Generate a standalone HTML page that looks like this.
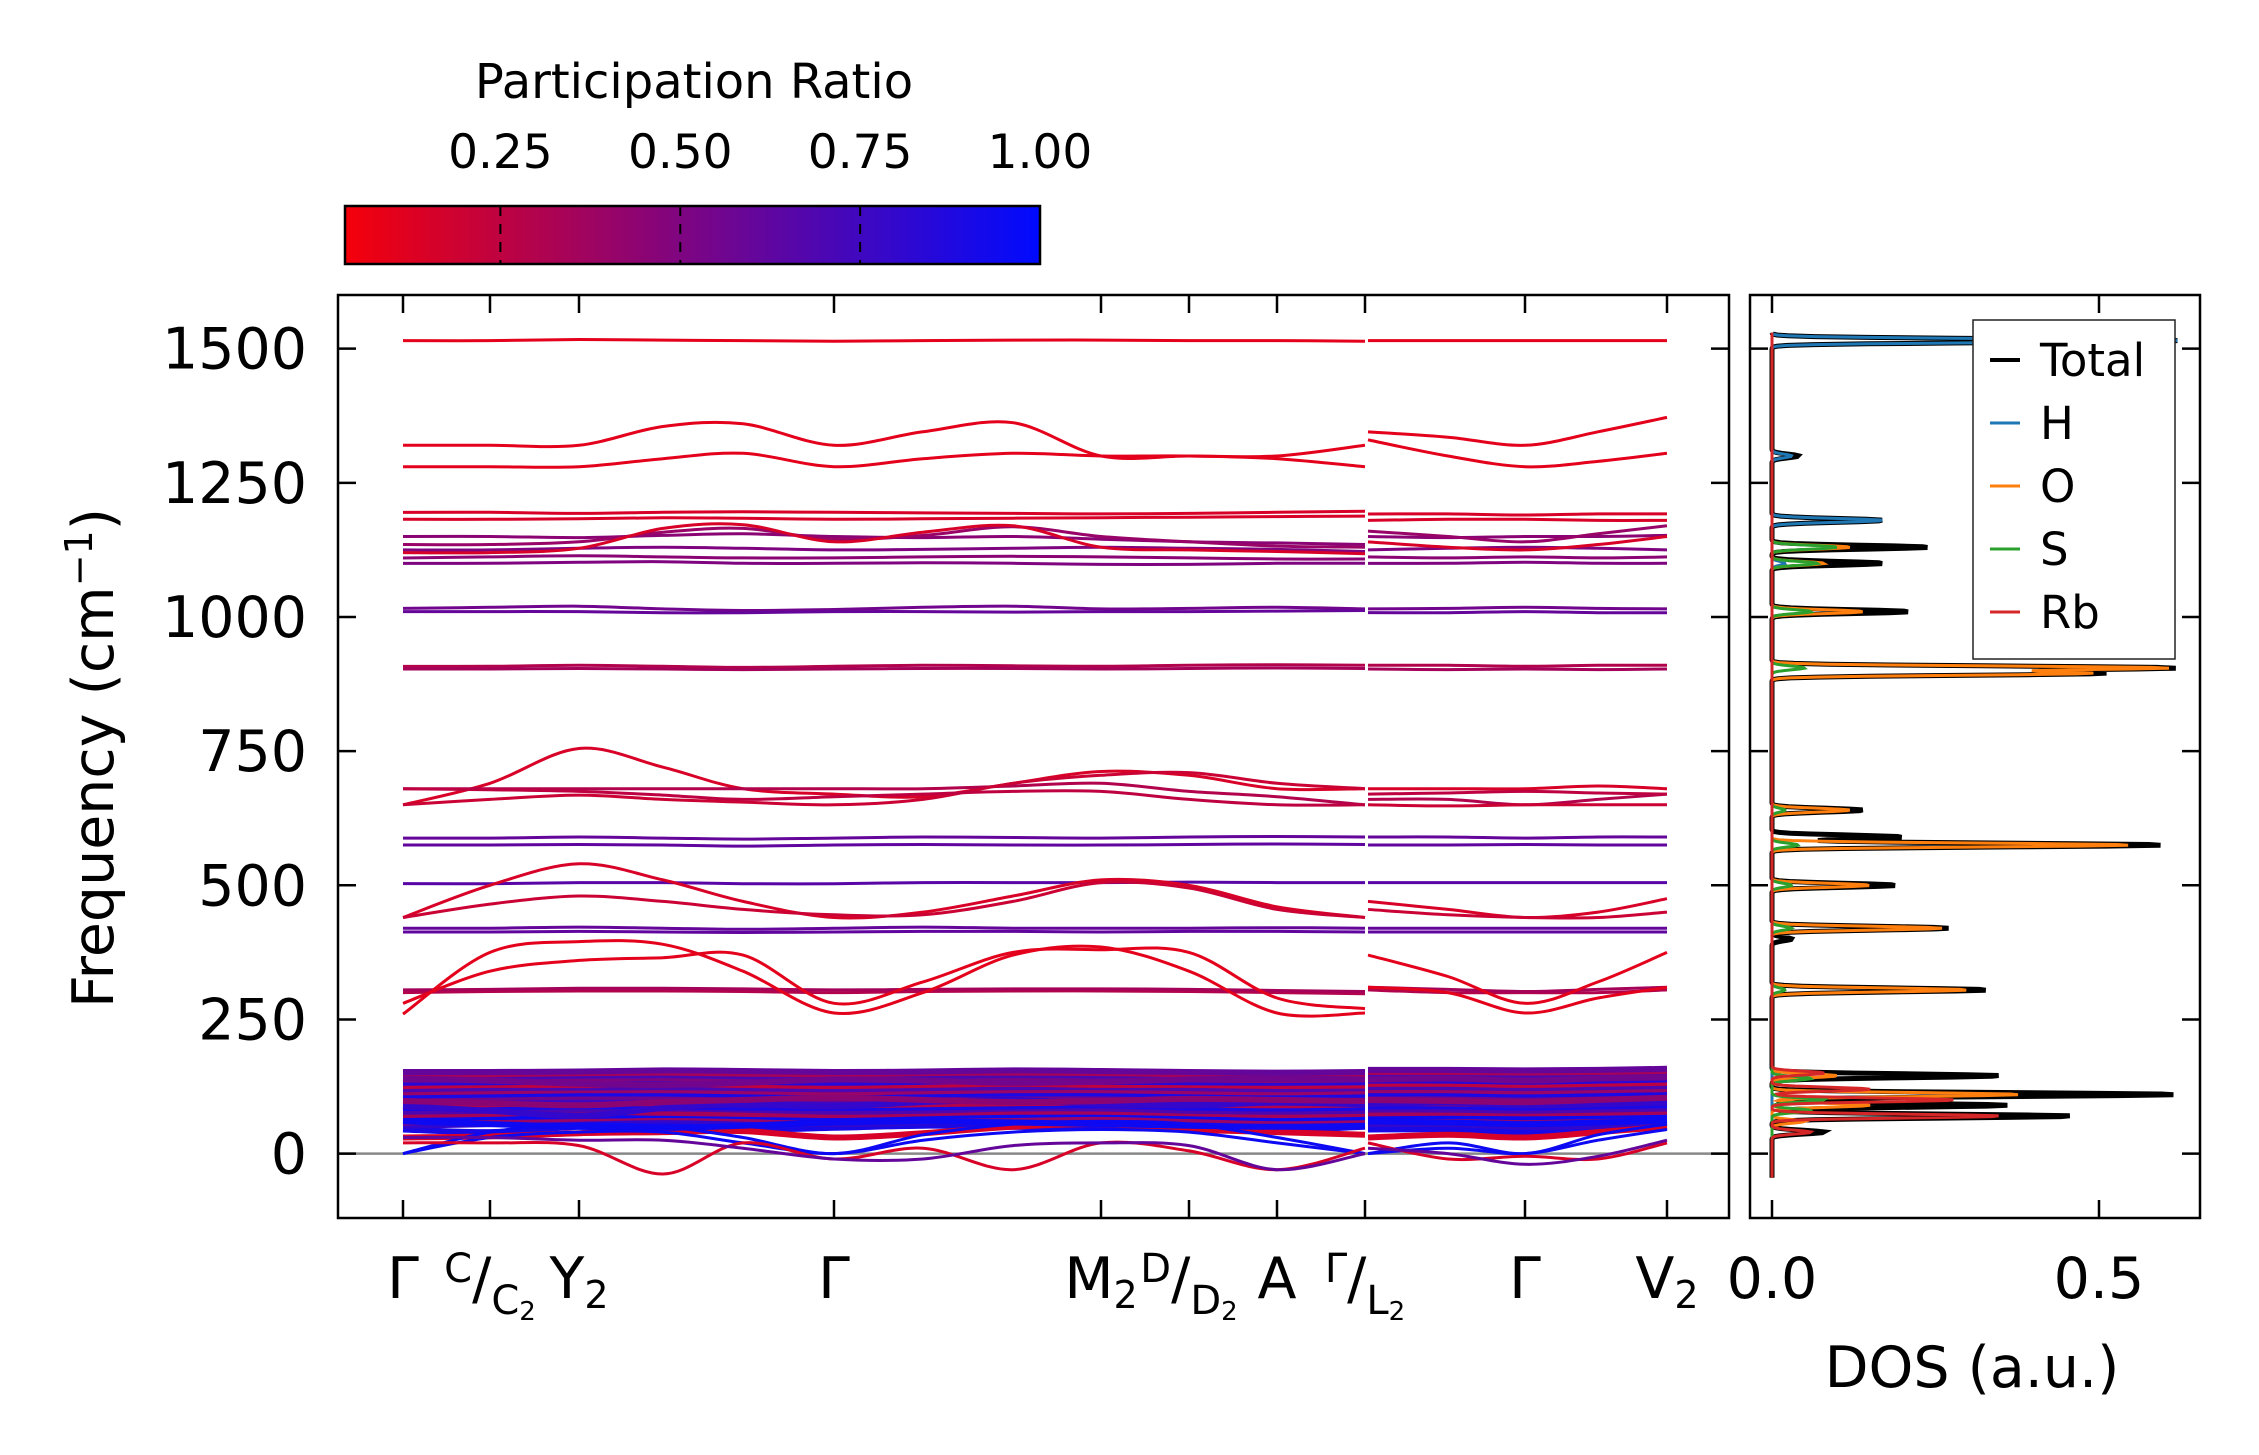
<!DOCTYPE html>
<html><head><meta charset="utf-8"><style>
html,body{margin:0;padding:0;background:#fff;}
svg{display:block;font-family:"DejaVu Sans","Liberation Sans",sans-serif;}
</style></head><body>
<svg id="fig" width="2259" height="1455" viewBox="0 0 2259 1455" xmlns="http://www.w3.org/2000/svg">
<defs>
<linearGradient id="cbgrad" x1="0" x2="1" y1="0" y2="0">
<stop offset="0" stop-color="rgb(245,0,10)"/><stop offset="1" stop-color="rgb(0,10,255)"/>
</linearGradient>
<clipPath id="mainclip"><rect x="338" y="295" width="1391" height="923"/></clipPath>
<clipPath id="dosclip"><rect x="1750" y="295" width="450" height="923"/></clipPath>
</defs>
<g id="colorbar">
<text x="694" y="98" font-size="48" text-anchor="middle">Participation Ratio</text>
<rect x="345" y="206" width="695" height="58" fill="url(#cbgrad)" stroke="#000" stroke-width="2.5"/>
</g>
<g id="main"></g>
<g id="dos"></g>
</svg>
<script>
const NS="http://www.w3.org/2000/svg";
// ---- data ----
const cbTicks=[0.25,0.50,0.75,1.00];
const kTickPos=[0,0.87,1.76,4.31,6.98,7.86,8.74,9.62,11.22,12.64];
const kTickLabels=["Γ","C/C2","Y2","Γ","M2","D/D2","A","Γ/L2","Γ","V2"];
const yTicks=[0,250,500,750,1000,1250,1500];
const kSeg1=[0,0.87,1.76,2.6,3.4,4.31,5.2,6.1,6.98,7.86,8.74,9.62];
const kSeg2=[9.62,10.45,11.22,11.95,12.64];
// each band: participation ratio, values on kSeg1, values on kSeg2
const bandPR=[0.1,0.1,0.1,0.15,0.15,0.45,0.4,0.5,0.45,0.5,0.15,0.55,0.6,0.3,0.35,0.15,0.3,0.2,0.25,0.6,0.62,0.65,0.15,0.2,0.6,0.62,0.3,0.35,0.1,0.1,0.95,0.95,0.15,0.6];
const bandSeg1=[
[1515,1515,1517,1516,1515,1514,1515,1516,1516,1515,1515,1514],
[1320,1320,1320,1355,1360,1320,1345,1362,1300,1300,1300,1320],
[1280,1280,1280,1295,1305,1280,1295,1305,1300,1300,1295,1280],
[1195,1195,1193,1195,1196,1195,1194,1193,1192,1193,1195,1197],
[1182,1182,1183,1185,1184,1182,1183,1184,1185,1186,1187,1188],
[1150,1150,1148,1152,1155,1150,1148,1150,1145,1140,1138,1135],
[1135,1135,1140,1158,1165,1145,1152,1168,1150,1140,1132,1130],
[1125,1125,1128,1130,1128,1125,1126,1128,1130,1128,1126,1122],
[1110,1112,1114,1112,1110,1110,1112,1113,1112,1110,1108,1108],
[1100,1100,1102,1103,1100,1100,1101,1100,1098,1098,1100,1100],
[1120,1120,1128,1165,1172,1140,1158,1170,1130,1125,1122,1118],
[1016,1018,1020,1015,1012,1014,1018,1020,1015,1016,1018,1015],
[1010,1010,1010,1008,1008,1010,1010,1009,1010,1010,1011,1012],
[908,908,910,908,906,908,910,909,908,910,911,910],
[903,903,904,903,902,903,904,904,903,904,905,904],
[650,690,755,720,680,670,665,690,712,705,680,680],
[680,680,680,680,680,680,680,685,690,675,665,650],
[650,660,668,660,655,650,660,690,705,710,690,680],
[680,678,675,668,660,665,670,675,675,660,650,650],
[588,588,590,588,586,588,590,589,588,590,591,590],
[575,575,576,575,573,575,576,575,575,576,577,576],
[503,503,505,505,503,503,505,505,505,506,505,505],
[440,500,540,510,470,440,450,480,510,500,460,440],
[440,465,480,470,455,445,445,470,505,495,455,440],
[420,420,422,420,418,420,422,420,420,420,421,420],
[413,413,414,413,412,413,414,414,413,414,414,413],
[300,302,303,303,302,300,302,303,303,302,300,298],
[305,306,308,308,307,305,306,307,307,306,304,302],
[260,375,395,390,340,262,300,370,385,340,262,262],
[280,340,360,365,370,280,320,375,380,375,290,270],
[0,30,40,40,20,0,25,40,45,40,20,0],
[0,40,55,50,30,0,35,55,60,55,30,0],
[20,20,15,-38,20,-10,10,-30,20,5,-30,10],
[30,30,25,25,10,-10,-10,15,20,15,-30,0]
];
const bandSeg2=[
[1515,1515,1515,1515,1515],
[1345,1335,1320,1345,1372],
[1330,1300,1280,1290,1305],
[1192,1192,1190,1192,1192],
[1180,1182,1182,1180,1180],
[1150,1148,1150,1150,1152],
[1160,1150,1140,1155,1170],
[1125,1128,1130,1128,1125],
[1112,1110,1112,1110,1112],
[1100,1100,1102,1100,1100],
[1140,1130,1125,1135,1150],
[1015,1016,1018,1016,1015],
[1008,1008,1010,1008,1008],
[910,910,908,910,910],
[903,902,903,902,903],
[680,680,680,685,680],
[660,660,650,660,670],
[650,648,650,650,650],
[670,672,675,672,670],
[590,590,588,590,590],
[575,575,576,575,575],
[505,505,505,505,505],
[470,455,440,450,475],
[455,445,440,440,450],
[420,420,420,420,420],
[413,413,413,413,413],
[305,300,300,300,305],
[310,306,302,306,310],
[370,330,280,320,375],
[310,300,262,290,310],
[0,10,0,25,45],
[0,20,0,35,55],
[20,-10,-5,-10,20],
[10,0,-20,-5,25]
];
// dense low-frequency bands (0-160 cm-1)
const densePR=[0.9,0.8,0.4,0.95,0.35,0.7,0.9,0.3,0.75,0.55,0.9,0.4,0.7,0.25,0.85,0.5,0.7,0.35,0.6,0.15,0.8,0.55,0.95,0.45];
const denseSeg1=[
[45,40,50,55,45,48,52,50,48,46,44,50],[52,55,60,62,58,55,58,60,62,58,52,55],
[58,62,65,68,65,60,64,66,68,64,60,62],[65,68,70,72,70,66,70,72,74,70,66,68],
[72,74,78,76,74,72,75,78,78,75,72,74],[78,80,82,84,82,78,80,84,84,80,78,80],
[85,86,88,88,86,85,86,88,90,86,84,86],[90,92,94,94,92,90,92,94,95,92,90,92],
[96,98,100,100,98,96,98,100,100,98,96,98],[102,104,106,106,104,102,104,106,106,104,102,104],
[108,110,112,112,110,108,110,112,112,110,108,110],[114,116,118,118,116,114,116,118,118,116,114,116],
[120,122,123,124,122,120,122,124,124,122,120,122],[126,128,128,130,128,126,128,130,128,128,126,127],
[132,133,134,136,134,132,134,136,134,133,132,133],[138,138,140,140,139,138,139,140,140,138,137,138],
[143,143,145,146,144,143,144,146,145,143,142,143],[148,148,150,151,149,148,150,151,150,148,147,148],
[152,152,153,155,154,152,153,155,154,152,151,152],[30,32,38,40,42,30,38,50,55,45,40,35],
[88,80,70,85,92,88,96,100,92,90,95,92],[140,136,130,128,132,138,136,132,134,138,140,138],
[60,55,50,48,52,58,60,58,55,52,50,52],[98,94,90,96,100,104,100,96,98,102,100,98]
];
const denseSeg2=[
[45,45,40,45,50],[55,55,50,52,58],[62,62,60,62,65],[68,70,68,70,72],[75,76,75,76,78],
[82,82,80,82,84],[88,88,86,88,90],[94,94,92,94,96],[100,100,98,100,102],[106,106,104,106,108],
[112,112,110,112,114],[118,118,116,118,120],[124,124,122,124,126],[130,130,128,130,132],
[136,136,134,136,138],[142,142,140,142,144],[147,147,146,147,149],[152,152,151,152,154],
[156,156,155,156,158],[30,35,30,40,50],[92,95,90,92,96],[138,140,136,140,142],
[60,58,55,58,62],[100,98,96,100,104]
];
// DOS peaks: centre (cm-1), height (a.u.), width
const dosTotalC=[1515,1300,1180,1130,1100,1010,905,895,640,590,575,500,420,400,305,145,110,90,70,40];
const dosTotalH=[0.62,0.04,0.17,0.24,0.17,0.21,0.61,0.50,0.14,0.20,0.60,0.19,0.27,0.03,0.33,0.35,0.62,0.36,0.46,0.08];
const dosHC=[1515,1300,1180,1100];
const dosHH=[0.62,0.03,0.17,0.02];
const dosOC=[1130,1100,1010,905,895,640,575,500,420,305,145,110,90,60];
const dosOH=[0.12,0.08,0.14,0.60,0.48,0.12,0.55,0.15,0.26,0.30,0.10,0.38,0.15,0.05];
const dosSC=[1130,1100,1010,905,640,575,500,420,305,140,100,80];
const dosSH=[0.10,0.07,0.06,0.05,0.02,0.04,0.03,0.03,0.02,0.06,0.08,0.06];
const dosRbC=[150,120,100,70,40];
const dosRbH=[0.08,0.15,0.28,0.35,0.06];
const dosTicks=[0.0,0.5];
// ---- scales ----
const YMIN=-120,YMAX=1600,YTOP=295,YBOT=1218;
function fy(f){return YBOT-(f-YMIN)/(YMAX-YMIN)*(YBOT-YTOP);}
const KMIN=-0.65,KMAX=13.26;
function kx(k){return 338+(k-KMIN)/(KMAX-KMIN)*1391;}
function dx(v){return 1772+v*654;}
function prColor(p){const t=Math.max(0,Math.min(1,(p-0.034)/0.966));return `rgb(${Math.round(245*(1-t))},${Math.round(10*t)},${Math.round(10+245*t)})`;}
function mk(tag,attrs,parent){const e=document.createElementNS(NS,tag);for(const k in attrs)e.setAttribute(k,attrs[k]);parent.appendChild(e);return e;}
function smoothPath(pts){let d=`M${pts[0][0]},${pts[0][1]}`;for(let i=0;i<pts.length-1;i++){const p0=pts[Math.max(0,i-1)],p1=pts[i],p2=pts[i+1],p3=pts[Math.min(pts.length-1,i+2)];const c1=[p1[0]+(p2[0]-p0[0])/6,p1[1]+(p2[1]-p0[1])/6],c2=[p2[0]-(p3[0]-p1[0])/6,p2[1]-(p3[1]-p1[1])/6];d+=`C${c1[0].toFixed(1)},${c1[1].toFixed(1)} ${c2[0].toFixed(1)},${c2[1].toFixed(1)} ${p2[0].toFixed(1)},${p2[1].toFixed(1)}`;}return d;}
// colorbar ticks
const cb=document.getElementById('colorbar');
function cbx(v){return 345+(v-0.034)/0.966*695;}
cbTicks.forEach(v=>{const x=cbx(v);
 if(v<1){const l=mk('line',{x1:x,x2:x,y1:206,y2:264,stroke:'#000','stroke-width':2,'stroke-dasharray':'10,8'},cb);
 
 }
 const t=mk('text',{x:x,y:168,'font-size':47,'text-anchor':'middle'},cb);t.textContent=v.toFixed(2);
 
 });
// main plot
const g=document.getElementById('main');
const bandsG=mk('g',{'clip-path':'url(#mainclip)'},g);


const zl=mk('line',{x1:338,x2:1729,y1:fy(0),y2:fy(0),stroke:'#888','stroke-width':2.5},bandsG);


function drawBand(vals1,vals2,p,w){
 const pts1=kSeg1.map((k,i)=>[kx(k),fy(vals1[i])]);
 const a=mk('path',{d:smoothPath(pts1),fill:'none',stroke:prColor(p),'stroke-width':w},bandsG);
 
 
 const pts2=kSeg2.map((k,i)=>[kx(k)+(i==0?3:0),fy(vals2[i])]);
 const b=mk('path',{d:smoothPath(pts2),fill:'none',stroke:prColor(p),'stroke-width':w},bandsG);
 
 }
denseSeg1.forEach((v,i)=>drawBand(v,denseSeg2[i],densePR[i],6));
bandSeg1.forEach((v,i)=>drawBand(v,bandSeg2[i],bandPR[i],3));
const fr=mk('rect',{x:338,y:295,width:1391,height:923,fill:'none',stroke:'#000','stroke-width':2.5},g);


yTicks.forEach(v=>{const y=fy(v);
 mk('line',{x1:338,x2:356,y1:y,y2:y,stroke:'#000','stroke-width':2.5},g);
 mk('line',{x1:1711,x2:1729,y1:y,y2:y,stroke:'#000','stroke-width':2.5},g);
 const t=mk('text',{x:307,y:y+20,'font-size':57,'text-anchor':'end'},g);t.textContent=v;
 
 });
kTickPos.forEach((k,i)=>{const x=kx(k);
 mk('line',{x1:x,x2:x,y1:1200,y2:1218,stroke:'#000','stroke-width':2.5},g);
 mk('line',{x1:x,x2:x,y1:295,y2:313,stroke:'#000','stroke-width':2.5},g);
 const lab=kTickLabels[i];const t=mk('text',{x:x,y:1298,'font-size':57,'text-anchor':'middle'},g);
 
 
 if(lab.includes('/')){const [a,b]=lab.split('/');
  const s1=mk('tspan',{'font-size':40,dy:-16},t);s1.textContent=a;
  const s2=mk('tspan',{dy:16},t);s2.textContent='/';
  const s3=mk('tspan',{'font-size':40,dy:16},t);s3.textContent=b[0];
  if(b.length>1){const s4=mk('tspan',{'font-size':26,dy:6},t);s4.textContent=b.slice(1);}
 } else if(lab.length>1){const s1=mk('tspan',{},t);s1.textContent=lab[0];const s2=mk('tspan',{'font-size':38,dy:10},t);s2.textContent=lab.slice(1);}
 else t.textContent=lab;});
const yl=mk('text',{x:0,y:0,'font-size':57,'text-anchor':'middle',transform:'translate(113,758) rotate(-90)'},g);


yl.innerHTML='Frequency (cm<tspan font-size="38" dy="-21">−1</tspan><tspan dy="21">)</tspan>';
// DOS
const dg=document.getElementById('dos');
const dosCurves=mk('g',{'clip-path':'url(#dosclip)'},dg);


function dosPath(C,H,w){let pts=[];for(let f=-45;f<=1530;f+=1.5){let v=0;for(let i=0;i<C.length;i++){v+=H[i]*Math.exp(-Math.pow((f-C[i])/w,2));}pts.push(`${dx(v).toFixed(1)},${fy(f).toFixed(1)}`);}return 'M'+pts.join('L');}
const series=[[dosTotalC,dosTotalH,'#000',5,'dos-total'],[dosHC,dosHH,'#1f77b4',3,'dos-h'],[dosOC,dosOH,'#ff7f0e',3,'dos-o'],[dosSC,dosSH,'#2ca02c',3,'dos-s'],[dosRbC,dosRbH,'#d62728',3,'dos-rb']];
series.forEach(s=>{const p=mk('path',{d:dosPath(s[0],s[1],5),fill:'none',stroke:s[2],'stroke-width':s[3]},dosCurves);
 
 });
const df=mk('rect',{x:1750,y:295,width:450,height:923,fill:'none',stroke:'#000','stroke-width':2.5},dg);


yTicks.forEach(v=>{const y=fy(v);mk('line',{x1:1750,x2:1768,y1:y,y2:y,stroke:'#000','stroke-width':2.5},dg);mk('line',{x1:2182,x2:2200,y1:y,y2:y,stroke:'#000','stroke-width':2.5},dg);});
dosTicks.forEach(v=>{const x=dx(v);mk('line',{x1:x,x2:x,y1:1200,y2:1218,stroke:'#000','stroke-width':2.5},dg);mk('line',{x1:x,x2:x,y1:295,y2:313,stroke:'#000','stroke-width':2.5},dg);
 const t=mk('text',{x:x,y:1298,'font-size':57,'text-anchor':'middle'},dg);t.textContent=v.toFixed(1);
 
 });
const xl=mk('text',{x:1972,y:1387,'font-size':57,'text-anchor':'middle'},dg);xl.textContent='DOS (a.u.)';


// legend
const lg=mk('g',{},dg);


mk('rect',{x:1973,y:320,width:202,height:339,fill:'#fff',stroke:'#222','stroke-width':1.5},lg);
const legNames=['Total','H','O','S','Rb'];const legColors=['#000','#1f77b4','#ff7f0e','#2ca02c','#d62728'];
legNames.forEach((n,i)=>{const y=360+i*63;
 const e=mk('g',{},lg);
 
 
 mk('line',{x1:1990,x2:2020,y1:y,y2:y,stroke:legColors[i],'stroke-width':i==0?4:3},e);
 const t=mk('text',{x:2040,y:y+16,'font-size':45},e);t.textContent=n;});
</script>
</body></html>
